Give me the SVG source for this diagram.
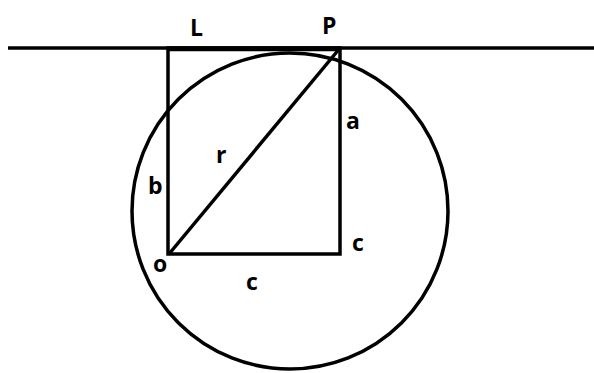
<svg xmlns="http://www.w3.org/2000/svg" width="594" height="373" viewBox="0 0 594 373">
<style>
.ln{stroke:#000;stroke-width:3.5;fill:none;stroke-linecap:butt}
.lb{font-family:"Open Sans","Liberation Sans",Arial,sans-serif;font-weight:bold;font-size:23px;fill:#000}
</style>
<rect width="594" height="373" fill="#fff"/>
<g id="connectors">
<line class="ln" x1="8" y1="48" x2="594" y2="48"/>
<circle class="ln" cx="290" cy="211" r="158"/>
<rect class="ln" x="168" y="48" width="172" height="206"/>
<line class="ln" x1="169" y1="254" x2="340" y2="48"/>
<line class="ln" x1="168" y1="49" x2="340" y2="49" style="stroke-width:4.5"/>
</g>
<g id="labels">
<text class="lb" x="190" y="36">L</text>
<text class="lb" x="322" y="34">P</text>
<text class="lb" x="346" y="129">a</text>
<text class="lb" x="216" y="163">r</text>
<text class="lb" x="148" y="194">b</text>
<text class="lb" x="352" y="251">c</text>
<text class="lb" x="153" y="272">o</text>
<text class="lb" x="246" y="290">c</text>
</g>
</svg>
